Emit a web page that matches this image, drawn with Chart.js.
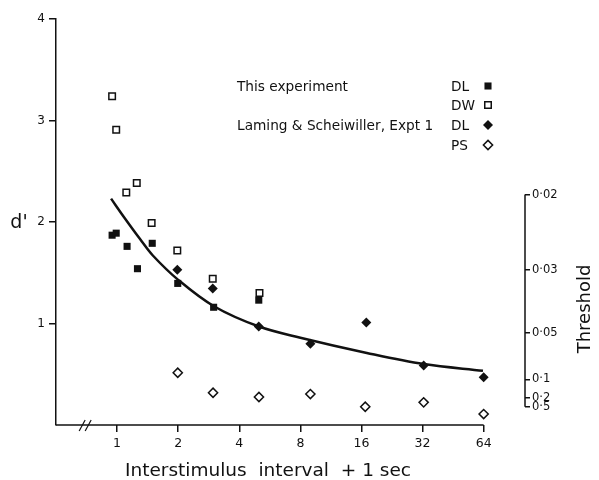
<!DOCTYPE html>
<html>
<head>
<meta charset="utf-8">
<script src="https://cdn.jsdelivr.net/npm/chart.js@4.4.1/dist/chart.umd.min.js"></script>
<style>
  html, body { margin: 0; padding: 0; background: #fff; }
  #wrap { width: 599px; height: 480px; }
</style>
</head>
<body>
<div id="wrap"><canvas id="chart"></canvas></div>
<script>
// x = interstimulus interval + 1 (sec), y = d'
const dlX = [0.945, 0.99, 1.12, 1.26, 1.49, 1.99, 2.99, 4.99];
const dlY = [1.87, 1.89, 1.76, 1.54, 1.79, 1.395, 1.16, 1.23];
const dwX = [0.945, 0.99, 1.11, 1.25, 1.48, 1.98, 2.96, 5.03];
const dwY = [3.24, 2.91, 2.29, 2.385, 1.99, 1.72, 1.44, 1.30];
const lsDlX = [1.98, 2.96, 4.99, 8.96, 16.9, 32.4, 64];
const lsDlY = [1.53, 1.345, 0.97, 0.80, 1.01, 0.585, 0.47];
const psX = [1.99, 2.97, 5.0, 8.96, 16.7, 32.4, 64];
const psY = [0.515, 0.318, 0.276, 0.305, 0.18, 0.223, 0.108];

// fitted curve
const fitX = [0.934, 1.08, 1.30, 1.5, 2.0, 3.0, 5.0, 8.0, 17, 32.4, 63.5];
const fitY = [2.23, 2.05, 1.83, 1.67, 1.43, 1.17, 0.97, 0.86, 0.71, 0.60, 0.534];

const xTicks = [1, 2, 4, 8, 16, 32, 64];
const dTicks = [1, 2, 3, 4];
const thresholdLabels = ['0·02', '0·03', '0·05', '0·1', '0·2', '0·5'];
const thresholdPos = [2.27, 1.53, 0.91, 0.45, 0.27, 0.18]; // d' level of each threshold tick

const legendGroups = ['This experiment', 'Laming & Scheiwiller, Expt 1'];
const legendCodes = ['DL', 'DW', 'DL', 'PS'];

const ink = '#111';
const FONT = "'DejaVu Sans', sans-serif";
Chart.defaults.font.family = FONT;
Chart.defaults.color = ink;

const pts = (xs, ys) => xs.map((x, i) => ({ x: x, y: ys[i] }));

// marker styles shared by the plot and the legend
const markers = [
  { pointStyle: 'rect', pointRadius: 5, pointBackgroundColor: ink, pointBorderColor: ink, pointBorderWidth: 0 },
  { pointStyle: 'rect', pointRadius: 4.6, pointBackgroundColor: '#fff', pointBorderColor: ink, pointBorderWidth: 1.5 },
  { pointStyle: 'rectRot', pointRadius: 5, pointBackgroundColor: ink, pointBorderColor: ink, pointBorderWidth: 0 },
  { pointStyle: 'rectRot', pointRadius: 4.6, pointBackgroundColor: '#fff', pointBorderColor: ink, pointBorderWidth: 1.5 }
];

function drawMarker(ctx, m, x, y) {
  const r = m.pointRadius;
  ctx.beginPath();
  if (m.pointStyle === 'rect') {
    const s = r * Math.SQRT1_2;
    ctx.rect(x - s, y - s, 2 * s, 2 * s);
  } else {
    ctx.moveTo(x, y - r); ctx.lineTo(x + r, y); ctx.lineTo(x, y + r); ctx.lineTo(x - r, y); ctx.closePath();
  }
  ctx.fillStyle = m.pointBackgroundColor;
  ctx.fill();
  if (m.pointBorderWidth > 0) {
    ctx.lineWidth = m.pointBorderWidth;
    ctx.strokeStyle = m.pointBorderColor;
    ctx.stroke();
  }
}

// --- extra decorations: partial axis lines, break mark, titles, legend ---
const extras = {
  id: 'extras',
  afterDraw(chart) {
    const { ctx, chartArea: a, scales: { x, yr } } = chart;
    ctx.save();
    ctx.strokeStyle = ink;
    ctx.lineWidth = 1.5;

    // x baseline stops at the last tick
    ctx.beginPath();
    ctx.moveTo(a.left, a.bottom);
    ctx.lineTo(x.getPixelForValue(xTicks[xTicks.length - 1]), a.bottom);
    ctx.stroke();

    // threshold axis spine
    ctx.beginPath();
    ctx.moveTo(a.right, yr.getPixelForValue(thresholdPos[0]));
    ctx.lineTo(a.right, yr.getPixelForValue(thresholdPos[thresholdPos.length - 1]));
    ctx.stroke();

    // axis break //
    const bx = x.getPixelForValue(0.7);
    ctx.lineWidth = 1.2;
    [-3.5, 2.5].forEach(dx => {
      ctx.beginPath();
      ctx.moveTo(bx + dx - 3, a.bottom + 6);
      ctx.lineTo(bx + dx + 3, a.bottom - 5);
      ctx.stroke();
    });

    ctx.fillStyle = ink;
    ctx.textBaseline = 'middle';

    // d' label
    ctx.font = "19px " + FONT;
    ctx.textAlign = 'center';
    ctx.fillText("d'", 19, 223);

    // x title
    ctx.font = "18.5px " + FONT;
    ctx.textAlign = 'left';
    ctx.fillText('Interstimulus  interval  + 1 sec', 125, 471);

    // Threshold title
    ctx.save();
    ctx.translate(585, 309);
    ctx.rotate(-Math.PI / 2);
    ctx.font = "18px " + FONT;
    ctx.textAlign = 'center';
    ctx.fillText('Threshold', 0, 0);
    ctx.restore();

    // legend
    const rows = [87, 106, 126, 146];
    ctx.font = "13.7px " + FONT;
    ctx.fillStyle = ink;
    ctx.textAlign = 'left';
    ctx.fillText(legendGroups[0], 237, rows[0]);
    ctx.fillText(legendGroups[1], 237, rows[2]);
    legendCodes.forEach((c, i) => {
      ctx.fillStyle = ink;
      ctx.fillText(c, 451, rows[i]);
      drawMarker(ctx, markers[i], 488, rows[i] - 1);
    });
    ctx.restore();
  }
};

new Chart(document.getElementById('chart'), {
  type: 'scatter',
  data: {
    datasets: [
      Object.assign({ label: 'This experiment DL', data: pts(dlX, dlY) }, markers[0]),
      Object.assign({ label: 'This experiment DW', data: pts(dwX, dwY) }, markers[1]),
      Object.assign({ label: 'Laming & Scheiwiller DL', data: pts(lsDlX, lsDlY) }, markers[2]),
      Object.assign({ label: 'Laming & Scheiwiller PS', data: pts(psX, psY) }, markers[3]),
      {
        label: 'fit',
        data: pts(fitX, fitY),
        showLine: true,
        borderColor: ink,
        borderWidth: 2.5,
        pointRadius: 0,
        tension: 0.35
      }
    ]
  },
  options: {
    responsive: true,
    maintainAspectRatio: false,
    animation: false,
    layout: { padding: { top: 19, left: 0, right: 0, bottom: 0 } },
    plugins: { legend: { display: false }, tooltip: { enabled: false } },
    scales: {
      x: {
        type: 'logarithmic',
        min: 0.5,
        max: 102.3,
        afterBuildTicks: s => { s.ticks = xTicks.map(v => ({ value: v })); },
        afterFit: s => { s.height = 55; },
        border: { display: false },
        grid: { drawOnChartArea: false, drawTicks: true, tickLength: 7, color: ink, lineWidth: 1.5 },
        ticks: { autoSkip: false, maxRotation: 0, padding: 4, font: { size: 12.5 }, callback: v => String(v) }
      },
      y: {
        position: 'left',
        min: 0,
        max: 4,
        afterBuildTicks: s => { s.ticks = dTicks.map(v => ({ value: v })); },
        afterFit: s => { s.width = 56; },
        border: { display: true, color: ink, width: 1.5 },
        grid: { drawOnChartArea: false, drawTicks: true, tickLength: 7, color: ink, lineWidth: 1.5 },
        ticks: { padding: 4, font: { size: 12 }, callback: v => String(v) }
      },
      yr: {
        position: 'right',
        min: 0,
        max: 4,
        afterBuildTicks: s => { s.ticks = thresholdPos.map(v => ({ value: v })); },
        afterFit: s => { s.width = 74; },
        border: { display: false },
        grid: { drawOnChartArea: false, drawTicks: true, tickLength: 5, color: ink, lineWidth: 1.5 },
        ticks: { autoSkip: false, padding: 2, font: { size: 11.5 }, callback: (v, i) => thresholdLabels[i] }
      }
    }
  },
  plugins: [extras]
});
</script>
</body>
</html>
